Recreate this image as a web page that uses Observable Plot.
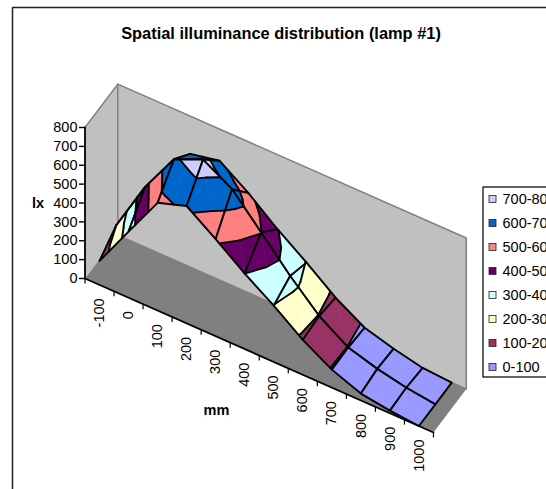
<!DOCTYPE html>
<html>
<head>
<meta charset="utf-8">
<script src="https://cdn.jsdelivr.net/npm/d3@7"></script>
<script src="https://cdn.jsdelivr.net/npm/@observablehq/plot@0.6"></script>
<style>
html,body{margin:0;padding:0;background:#fff;overflow:hidden}
svg{display:block}
</style>
</head>
<body>
<div id="chart"></div>
<script>
const chartTitle = "Spatial illuminance distribution (lamp #1)";
const categories = [-100,0,100,200,300,400,500,600,700,800,900,1000];
const lampFront  = [127,350,571,622,515,400,298,185,95,36,14,0];
const lampMiddle = [198,471,687,753,664,503,340,196,97,52,20,0];
const lampBack   = [127,350,600,632,528,405,296,178,87,44,10,0];
const zTicks = [0,100,200,300,400,500,600,700,800];
const bandLabels = ["700-800","600-700","500-600","400-500","300-400","200-300","100-200","0-100"];
const bandColors = ["#ccccff","#0066cc","#ff8080","#660066","#ccffff","#ffffcc","#993366","#9999ff"];

const W = 546, H = 489;
const rows = [lampFront, lampMiddle, lampBack];

const nU = categories.length, nV = rows.length - 1;
const project = (u, v, z) => ({
  x: 84.5 + u * 29.04 + v * 16.4,
  y: 278 + u * 12.83 - v * 21.7 - z * 151 / 800
});
const P = (u, v, z) => { const p = project(u, v, z); return [p.x, p.y]; };

const bandStep = 100;
const colorOf = lo => bandColors[bandColors.length - 1 - lo / bandStep];

function clipTri(tri, lo, hi) {
  let poly = tri;
  const clip = (pts, keep, t) => {
    const out = [];
    pts.forEach((a, k) => {
      const b = pts[(k + 1) % pts.length];
      if (keep(a.z)) out.push(a);
      if (keep(a.z) !== keep(b.z)) {
        const f = (t - a.z) / (b.z - a.z);
        out.push({u: a.u + f * (b.u - a.u), v: a.v + f * (b.v - a.v), z: t});
      }
    });
    return out;
  };
  poly = clip(poly, z => z >= lo, lo);
  if (poly.length) poly = clip(poly, z => z <= hi, hi);
  return poly;
}

function contourSeg(tri, t) {
  const pts = [];
  tri.forEach((a, k) => {
    const b = tri[(k + 1) % 3];
    if ((a.z < t) !== (b.z < t)) {
      const f = (t - a.z) / (b.z - a.z);
      pts.push({u: a.u + f * (b.u - a.u), v: a.v + f * (b.v - a.v), z: t});
    }
  });
  return pts.length === 2 ? pts : null;
}

let uid = 0;
function cellMarks(i, s) {
  const c = [
    {u: i + .5, v: s, z: rows[s][i]},
    {u: i + 1.5, v: s, z: rows[s][i + 1]},
    {u: i + 1.5, v: s + 1, z: rows[s + 1][i + 1]},
    {u: i + .5, v: s + 1, z: rows[s + 1][i]}
  ];
  const ctr = {u: i + 1, v: s + .5, z: d3.mean(c, d => d.z)};
  const fills = [], lines = [];
  const addRing = (target, pts, color) => {
    const id = uid++;
    pts.forEach(p => {
      const q = project(p.u, p.v, p.z);
      target.push({x: q.x, y: q.y, id, color});
    });
  };
  for (let k = 0; k < 4; k++) {
    const tri = [c[k], c[(k + 1) % 4], ctr];
    for (let lo = 0; lo < 800; lo += bandStep) {
      const poly = clipTri(tri, lo, lo + bandStep);
      if (poly.length > 2) addRing(fills, [...poly, poly[0]], colorOf(lo));
    }
    for (let t = bandStep; t < 800; t += bandStep) {
      const seg = contourSeg(tri, t);
      if (seg) addRing(lines, seg, "#000");
    }
  }
  addRing(lines, [...c, c[0]], "#000");
  return [
    Plot.line(fills, {x: "x", y: "y", z: "id", fill: "color", stroke: "color", strokeWidth: 0.5}),
    Plot.line(lines, {x: "x", y: "y", z: "id", stroke: "#000", strokeWidth: 1.9})
  ];
}

const surface = [];
for (let s = nV - 1; s >= 0; s--)
  for (let i = 0; i < nU - 1; i++)
    surface.push(...cellMarks(i, s));

const ring = pts => pts.map(p => ({x: p[0], y: p[1]}));
const zMax = zTicks[zTicks.length - 1];
const leftWall = ring([P(0,0,0),P(0,0,zMax),P(0,nV,zMax),P(0,nV,0)]);
const backWall = ring([P(0,nV,0),P(0,nV,zMax),P(nU,nV,zMax),P(nU,nV,0)]);
const floor = ring([P(0,0,0),P(0,nV,0),P(nU,nV,0),P(nU,0,0)]);
const wallEdges = ring([P(0,0,zMax),P(0,nV,zMax),P(nU,nV,zMax),P(nU,nV,0)]);
const corner = ring([P(0,nV,zMax),P(0,nV,0),P(nU,nV,0)]);
const xAxisLine = ring([P(0,0,0),P(nU,0,0)]);
const zAxisLine = ring([P(0,0,0),P(0,0,zMax)]);

const xTickRows = d3.range(nU + 1).map(u => project(u, 0, 0));
const xLabelRows = categories.map((c, i) => ({c, ...project(i + .5, 0, 0)}));
const zTickRows = zTicks.map(z => ({z, ...project(0, 0, z)}));

const legendX = 483, legendTop = 187, legendStep = 24;
const legendRows = bandLabels.map((label, k) => ({label, color: bandColors[k], y: legendTop + 12 + k * legendStep}));

const plot = Plot.plot({
  width: W, height: H,
  margin: 0,
  style: {background: "#fff", fontFamily: "'Liberation Sans', Arial, sans-serif", overflow: "hidden"},
  x: {type: "identity", axis: null},
  y: {type: "identity", axis: null},
  color: {type: "identity"},
  marks: [
    Plot.line([{x: 12, y: H}, {x: 12, y: 7}, {x: W, y: 7}], {x: "x", y: "y", stroke: "#222", strokeWidth: 1.5}),
    Plot.text([chartTitle], {x: 280.5, y: 33.5, text: d => d, fontSize: 16.4, fontWeight: "bold", fill: "#000"}),

    Plot.line([...leftWall, leftWall[0]], {x: "x", y: "y", fill: "#c0c0c0", stroke: "none"}),
    Plot.line([...backWall, backWall[0]], {x: "x", y: "y", fill: "#c0c0c0", stroke: "none"}),
    Plot.line([...floor, floor[0]], {x: "x", y: "y", fill: "#808080", stroke: "none"}),
    Plot.line(wallEdges, {x: "x", y: "y", stroke: "#808080", strokeWidth: 1.5}),
    Plot.line(corner, {x: "x", y: "y", stroke: "#808080", strokeWidth: 1.5}),

    ...surface,

    Plot.line(xAxisLine, {x: "x", y: "y", stroke: "#000", strokeWidth: 1.8}),
    Plot.line(zAxisLine, {x: "x", y: "y", stroke: "#000", strokeWidth: 1.8}),
    Plot.link(xTickRows, {x1: "x", x2: "x", y1: "y", y2: d => d.y + 5, stroke: "#000", strokeWidth: 1.2}),
    Plot.link(zTickRows, {x1: d => d.x - 6, x2: "x", y1: "y", y2: "y", stroke: "#000", strokeWidth: 1.4}),
    Plot.text(zTickRows, {x: d => d.x - 7.5, y: "y", text: d => String(d.z), textAnchor: "end", fontSize: 14.5, fill: "#000"}),
    Plot.text(xLabelRows, {x: "x", y: d => d.y + 13.5, text: d => String(d.c), rotate: -90, textAnchor: "end", fontSize: 14.5, fill: "#000"}),
    Plot.text(["lx"], {x: 37.5, y: 203, text: d => d, fontWeight: "bold", fontSize: 14.5, fill: "#000"}),
    Plot.text(["mm"], {x: 216, y: 409.5, text: d => d, fontWeight: "bold", fontSize: 14.5, fill: "#000"}),

    Plot.rect([{x1: legendX, x2: W + 20, y1: legendTop, y2: legendTop + 190}], {x1: "x1", x2: "x2", y1: "y1", y2: "y2", fill: "#fff", stroke: "#000", strokeWidth: 1.2}),
    Plot.rect(legendRows, {x1: legendX + 6, x2: legendX + 13, y1: d => d.y - 3.5, y2: d => d.y + 3.5, fill: "color", stroke: "#222", strokeWidth: 0.8}),
    Plot.text(legendRows, {x: legendX + 19, y: "y", text: "label", textAnchor: "start", fontSize: 14.5, fill: "#000"})
  ]
});
document.getElementById("chart").append(plot);
</script>
</body>
</html>
